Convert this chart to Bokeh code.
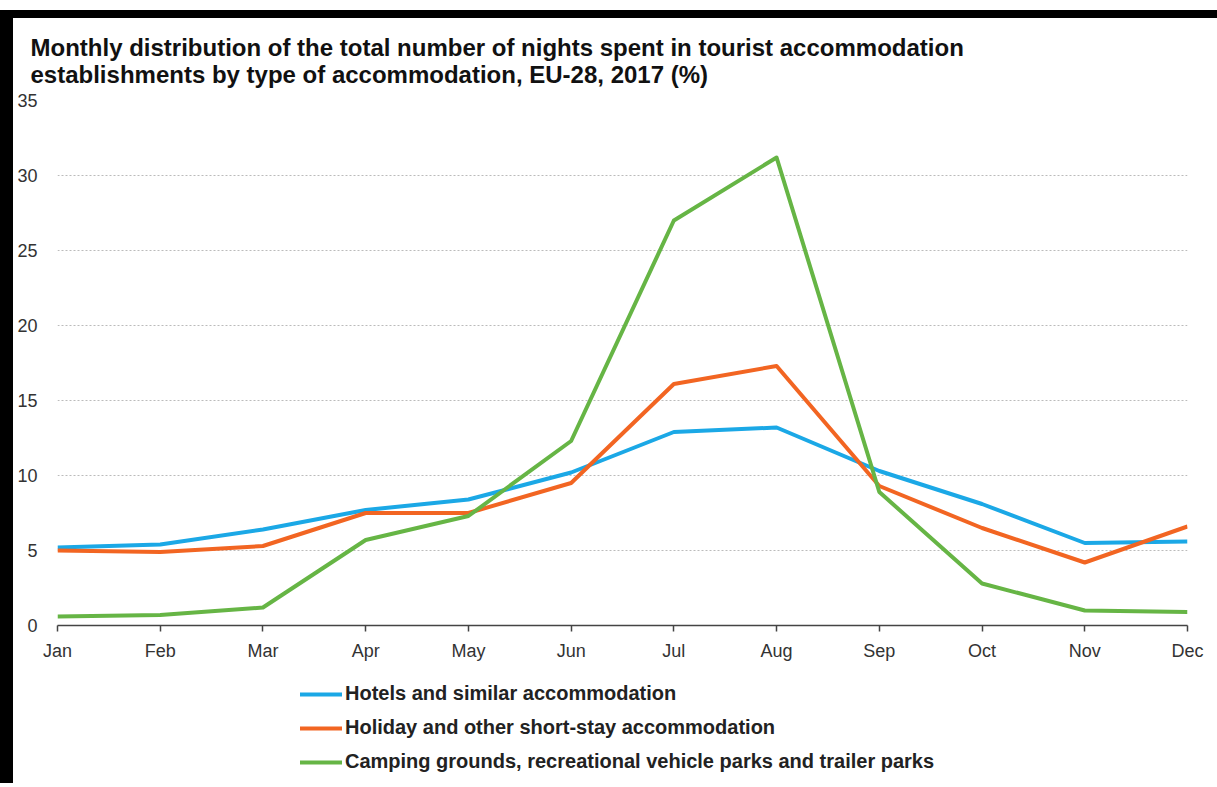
from bokeh.plotting import figure
from bokeh.models import Legend, LegendItem, FixedTicker, Title
from bokeh.layouts import column
from bokeh.embed import file_html
from bokeh.resources import INLINE

months = ["Jan", "Feb", "Mar", "Apr", "May", "Jun", "Jul", "Aug", "Sep", "Oct", "Nov", "Dec"]
hotels = [5.2, 5.4, 6.4, 7.7, 8.4, 10.2, 12.9, 13.2, 10.3, 8.1, 5.5, 5.6]
holiday = [5.0, 4.9, 5.3, 7.5, 7.5, 9.5, 16.1, 17.3, 9.3, 6.5, 4.2, 6.6]
camping = [0.6, 0.7, 1.2, 5.7, 7.3, 12.3, 27.0, 31.2, 8.9, 2.8, 1.0, 0.9]
series_names = ["Hotels and similar accommodation",
                "Holiday and other short-stay accommodation",
                "Camping grounds, recreational vehicle parks and trailer parks"]
series_colors = ["#1BA8E6", "#F26522", "#66B545"]
y_ticks = [0, 5, 10, 15, 20, 25, 30, 35]

FONT = "Liberation Sans"
xs = list(range(len(months)))

p = figure(width=1204, height=650, x_range=(0, 11), y_range=(0, 35),
           output_backend="svg", toolbar_location=None,
           min_border_left=44, min_border_right=30, min_border_top=82,
           min_border_bottom=43)
p.outline_line_color = None
p.background_fill_color = "white"
p.border_fill_color = "white"

p.title = Title(text="Monthly distribution of the total number of nights spent in tourist accommodation\n"
                     "establishments by type of accommodation, EU-28, 2017 (%)",
                text_font=FONT, text_font_size="24px", text_font_style="bold",
                text_color="#111111", align="left", offset=-27, standoff=25)

for vals, col in zip([hotels, holiday, camping], series_colors):
    p.line(xs, vals, line_color=col, line_width=4, line_join="round")

# x axis
xa = p.xaxis[0]
xa.ticker = FixedTicker(ticks=xs)
xa.major_label_overrides = {i: m for i, m in enumerate(months)}
xa.axis_line_color = "#444444"
xa.axis_line_width = 1.5
xa.major_tick_line_color = "#444444"
xa.major_tick_line_width = 1.5
xa.major_tick_out = 6
xa.major_tick_in = 0
xa.minor_tick_line_color = None
xa.major_label_text_font = FONT
xa.major_label_text_font_size = "18px"
xa.major_label_text_color = "#333333"
xa.major_label_standoff = 9

# y axis
ya = p.yaxis[0]
ya.ticker = FixedTicker(ticks=y_ticks)
ya.axis_line_color = None
ya.major_tick_line_color = None
ya.minor_tick_line_color = None
ya.major_tick_out = 0
ya.major_tick_in = 0
ya.major_label_text_font = FONT
ya.major_label_text_font_size = "18px"
ya.major_label_text_color = "#333333"
ya.major_label_standoff = 20

p.xgrid.grid_line_color = None
p.ygrid.ticker = FixedTicker(ticks=y_ticks[1:])
p.ygrid.grid_line_color = "#BBBBBB"
p.ygrid.grid_line_dash = "2 2"
p.ygrid.grid_line_width = 1

# legend in its own small figure below the chart
lf = figure(width=1204, height=115, x_range=(0, 1), y_range=(0, 1),
            output_backend="svg", toolbar_location=None,
            x_axis_location=None, y_axis_location=None,
            min_border=0, min_border_left=0, min_border_right=0,
            min_border_top=0, min_border_bottom=0)
lf.grid.visible = False
lf.outline_line_color = None
lf.background_fill_color = "white"
lf.border_fill_color = "white"
lrs = [lf.line([-5, -4], [-5, -5], line_color=c, line_width=4, line_cap="round")
       for c in series_colors]
legend = Legend(items=[LegendItem(label=n, renderers=[r]) for n, r in zip(series_names, lrs)],
                location=(243, 10), orientation="vertical",
                label_text_font=FONT, label_text_font_size="20px", label_text_font_style="bold",
                label_text_color="#222222", glyph_width=42, glyph_height=20, label_height=20,
                label_standoff=3, spacing=11, padding=0, margin=0,
                border_line_color=None, background_fill_alpha=0)
lf.add_layout(legend)

layout = column(p, lf, spacing=0,
                styles={"margin-top": "10px", "border-top": "8px solid black",
                        "border-left": "13px solid black", "background-color": "white"})

open("out.html", "w").write(file_html(layout, INLINE))
